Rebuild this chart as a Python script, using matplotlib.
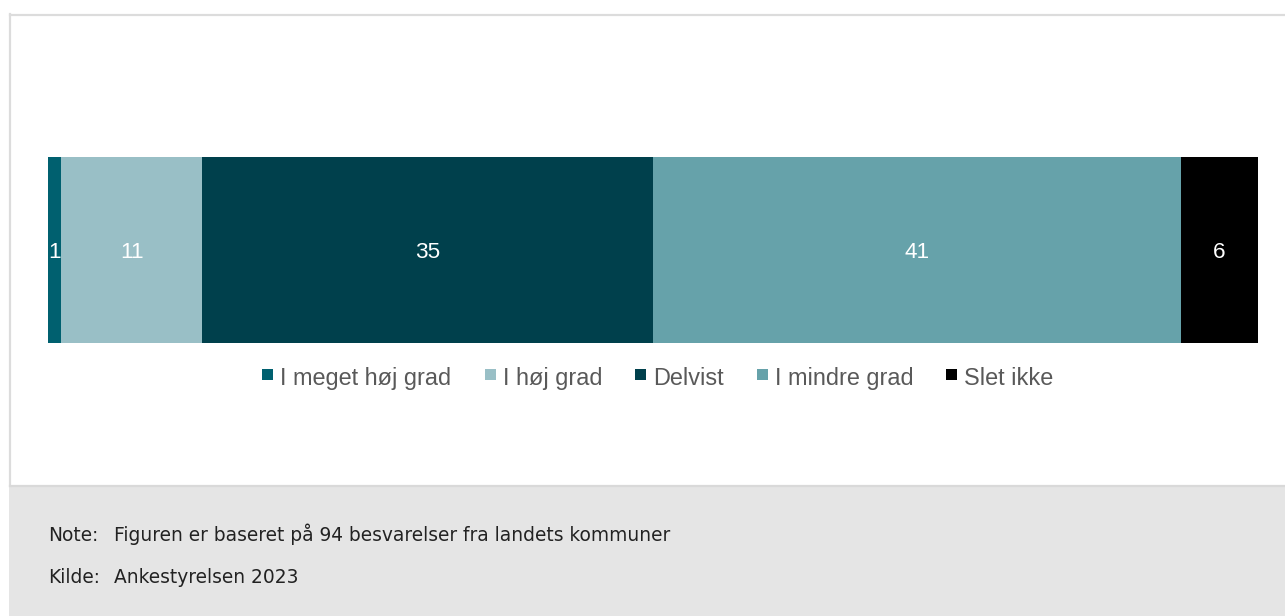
import matplotlib
matplotlib.use("Agg")
import matplotlib.pyplot as plt
from matplotlib.patches import Rectangle
from matplotlib.lines import Line2D
from matplotlib.transforms import offset_copy

categories = ["I meget høj grad", "I høj grad", "Delvist", "I mindre grad", "Slet ikke"]
values = [1, 11, 35, 41, 6]
colors = ["#00606F", "#99BFC6", "#00404C", "#66A2AA", "#000000"]
note_label = "Note:"
note_text = "Figuren er baseret på 94 besvarelser fra landets kommuner"
source_label = "Kilde:"
source_text = "Ankestyrelsen 2023"

W, H = 1285, 616
fig = plt.figure(figsize=(W / 100, H / 100), dpi=100)
fig.patch.set_facecolor("white")


def fx(px):
    return px / W


def fy(py):
    return 1 - py / H


# footer background
fig.patches.append(Rectangle((fx(9), 0), 1 - fx(9), fy(485), transform=fig.transFigure,
                             facecolor="#E5E5E5", edgecolor="none", zorder=0))
# card borders
fig.add_artist(Line2D([fx(10), fx(10)], [fy(14), fy(486)], transform=fig.transFigure,
                      color="#DCDCDC", lw=1.6))
fig.add_artist(Line2D([fx(10), 1], [fy(14.8), fy(14.8)], transform=fig.transFigure,
                      color="#DCDCDC", lw=1.6))
fig.add_artist(Line2D([fx(10), 1], [fy(485.8), fy(485.8)], transform=fig.transFigure,
                      color="#D9D9D9", lw=1.6))

ax = fig.add_axes([fx(48), fy(343), fx(1258) - fx(48), fy(157) - fy(343)])
label_fs = 16.2
label_tr = offset_copy(ax.transData, fig=fig, y=-0.358 * label_fs, units="points")
left = 0
bars = []
for cat, v, c in zip(categories, values, colors):
    b = ax.barh([0], [v], left=left, height=1.0, color=c, label=cat, edgecolor="none")
    bars.append(b)
    ax.text(left + v / 2, 0, str(v), ha="center", va="baseline", color="white",
            fontsize=label_fs, family="Liberation Sans", transform=label_tr)
    left += v
ax.set_xlim(0, sum(values))
ax.set_ylim(-0.5, 0.5)
ax.axis("off")

# legend, laid out by hand so that all labels share one baseline
leg_fs = 16.9
sq = 11
gap_txt = 7
gap_col = 33
baseline_y = 384.7
sq_top = 369
renderer = fig.canvas.get_renderer()
texts = []
widths = []
for cat in categories:
    t = fig.text(0, fy(baseline_y), cat, ha="left", va="baseline", fontsize=leg_fs,
                 family="Liberation Sans", color="#595959")
    texts.append(t)
    widths.append(t.get_window_extent(renderer).width)
total = sum(sq + gap_txt + w for w in widths) + gap_col * (len(categories) - 1)
x = 658 - total / 2
for t, w, c in zip(texts, widths, colors):
    fig.patches.append(Rectangle((fx(x), fy(sq_top + sq)), sq / W, sq / H,
                                 transform=fig.transFigure, facecolor=c, edgecolor="none"))
    t.set_x(fx(x + sq + gap_txt))
    x += sq + gap_txt + w + gap_col

foot_fs = 13.45
foot_col = "#222222"
fig.text(fx(48), fy(541), note_label, ha="left", va="baseline", fontsize=foot_fs,
         family="DejaVu Sans", color=foot_col)
fig.text(fx(114), fy(541), note_text, ha="left", va="baseline", fontsize=foot_fs,
         family="DejaVu Sans", color=foot_col)
fig.text(fx(48), fy(583.3), source_label, ha="left", va="baseline", fontsize=foot_fs,
         family="DejaVu Sans", color=foot_col)
fig.text(fx(114), fy(583.3), source_text, ha="left", va="baseline", fontsize=foot_fs,
         family="DejaVu Sans", color=foot_col)

fig.savefig("out.png", dpi=100)
